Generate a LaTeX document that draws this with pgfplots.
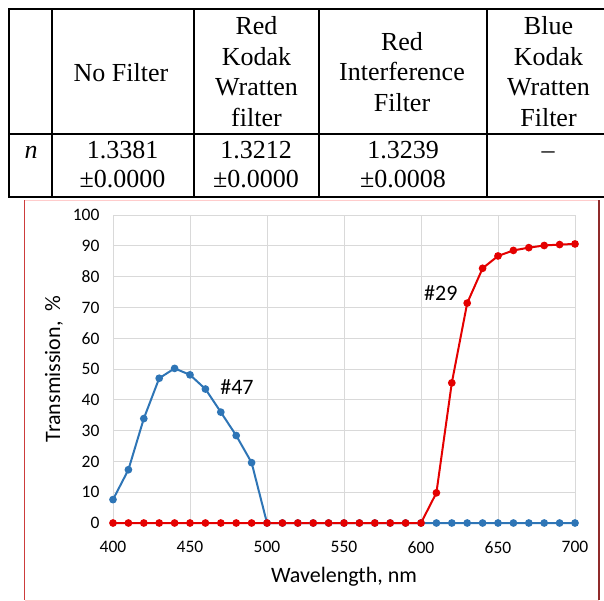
\documentclass[border=0pt]{standalone}
\usepackage{fontspec}
\setmainfont{Liberation Serif}
\newfontfamily\calfont{Carlito}
\usepackage{pgfplots}
\pgfplotsset{compat=1.18}
\usepackage{pgfplotstable}

\definecolor{serblue}{RGB}{46,117,182}
\definecolor{serred}{RGB}{228,0,0}
\definecolor{gridgray}{RGB}{217,217,217}
\definecolor{framered}{RGB}{205,60,60}

% #47 blue filter
\pgfplotstableread{
wl T
400 7.6
410 17.3
420 33.9
430 47.0
440 50.2
450 48.1
460 43.5
470 36.0
480 28.4
490 19.6
500 0
510 0
520 0
530 0
540 0
550 0
560 0
570 0
580 0
590 0
600 0
610 0
620 0
630 0
640 0
650 0
660 0
670 0
680 0
690 0
700 0
}\blueT

% #29 red filter
\pgfplotstableread{
wl T
400 0
410 0
420 0
430 0
440 0
450 0
460 0
470 0
480 0
490 0
500 0
510 0
520 0
530 0
540 0
550 0
560 0
570 0
580 0
590 0
600 0
610 9.8
620 45.5
630 71.4
640 82.7
650 86.7
660 88.5
670 89.4
680 90.1
690 90.4
700 90.6
}\redT

\begin{document}
\begin{tikzpicture}
\path[use as bounding box] (0pt,0pt) rectangle (604pt,-601pt);

% table rules
\begin{scope}[line width=2pt]
  \draw (8.3pt,-9.3pt) -- (620pt,-9.3pt);
  \draw (8.3pt,-134pt) -- (620pt,-134pt);
  \draw (8.3pt,-197pt) -- (620pt,-197pt);
  \foreach \xx in {9.3,51.7,194,319,487}
    \draw (\xx pt,-9.3pt) -- (\xx pt,-197pt);
\end{scope}

% table text
\begin{scope}[every node/.style={anchor=base, inner sep=0pt, font=\fontsize{26}{30}\selectfont}]
  \node at (121pt,-81.7pt) {No Filter};
  \node at (256.5pt,-35pt) {Red};
  \node at (256.5pt,-65.5pt) {Kodak};
  \node at (256.5pt,-96pt) {Wratten};
  \node at (256.5pt,-126.5pt) {filter};
  \node at (402pt,-50.5pt) {Red};
  \node at (402pt,-81pt) {Interference};
  \node at (402pt,-111.5pt) {Filter};
  \node at (548.5pt,-35pt) {Blue};
  \node at (548.5pt,-65.5pt) {Kodak};
  \node at (548.5pt,-96pt) {Wratten};
  \node at (548.5pt,-126.5pt) {Filter};
  \node at (31pt,-159pt) {\itshape n};
  \node at (122.5pt,-159pt) {1.3381};
  \node at (122.5pt,-188pt) {±0.0000};
  \node at (256pt,-159pt) {1.3212};
  \node at (256pt,-188pt) {±0.0000};
  \node at (403pt,-159pt) {1.3239};
  \node at (403pt,-188pt) {±0.0008};
  \node at (548pt,-159pt) {–};
\end{scope}

% chart frame
\draw[red!20, line width=1pt] (24.5pt,-200.5pt) -- (599pt,-200.5pt);
\draw[red!20, line width=1pt] (24.5pt,-600pt) -- (599pt,-600pt);
\draw[framered, line width=1.2pt] (24.5pt,-200.5pt) -- (24.5pt,-600pt);
\draw[framered!70!black, line width=1.2pt] (599pt,-200.5pt) -- (599pt,-600pt);

\begin{axis}[
  at={(113pt,-523pt)}, anchor=south west,
  scale only axis, width=462pt, height=308pt,
  xmin=400, xmax=700, ymin=0, ymax=100,
  xtick={400,450,...,700}, ytick={0,10,...,100},
  grid=major, major grid style={gridgray, line width=1pt},
  axis line style={draw=none}, major tick length=0pt,
  /pgf/number format/assume math mode=true,
  tick label style={font=\calfont\fontsize{17.5}{17.5}\selectfont},
  xticklabel style={yshift=-15pt},
  yticklabel style={xshift=-10pt},
  xlabel={Wavelength, nm},
  ylabel={Transmission,\ \ \%},
  every axis x label/.style={at={(axis description cs:0.5,-0.175)}, anchor=center,
    font=\calfont\fontsize{22}{22}\selectfont},
  every axis y label/.style={at={(axis description cs:-0.128,0.5)}, anchor=center, rotate=90,
    font=\calfont\fontsize{22}{22}\selectfont},
  clip=false,
]
\addplot[serblue, line width=2pt, mark=*, mark size=2.8pt] table[x=wl, y=T] {\blueT};
\addplot[serred, line width=2pt, mark=*, mark size=2.8pt] table[x=wl, y=T] {\redT};
\node[font=\calfont\fontsize{22}{22}\selectfont] at (axis cs:480.5,44.2) {\#47};
\node[font=\calfont\fontsize{22}{22}\selectfont] at (axis cs:612.9,74.6) {\#29};
\end{axis}
\end{tikzpicture}
\end{document}
